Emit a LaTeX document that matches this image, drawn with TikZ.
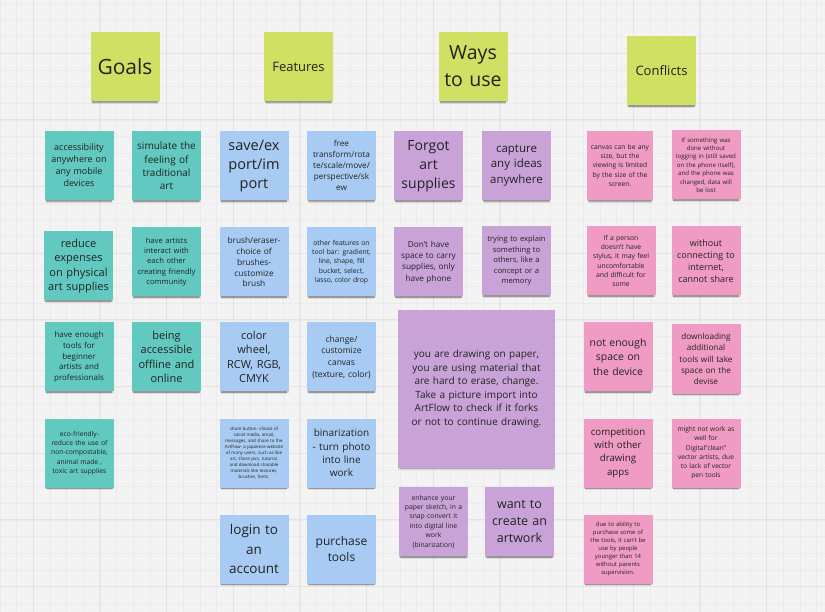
\documentclass[tikz,border=0pt]{standalone}
\usepackage{fontspec}
\setmainfont{Open Sans}
\usetikzlibrary{shadows}
\definecolor{bgc}{HTML}{F3F3F3}
\definecolor{gridc}{HTML}{EBEBEB}
\definecolor{gridm}{HTML}{E3E3E3}
\definecolor{hdrc}{HTML}{CFE062}
\definecolor{tealc}{HTML}{62C9C0}
\definecolor{bluec}{HTML}{A7CBF2}
\definecolor{purpc}{HTML}{C9A3D7}
\definecolor{pinkc}{HTML}{F09BC3}
\definecolor{txtc}{HTML}{222222}
\newcommand\fsz[2]{\fontsize{#1}{#2}\selectfont}
\tikzset{
  note/.style={minimum width=69pt, minimum height=69pt, text width=62pt,
    inner sep=0pt, align=center, text=txtc,
    general shadow={fill=black, opacity=0.10, shadow yshift=-4.5pt, shadow scale=0.95},
    general shadow={fill=black, opacity=0.22, shadow yshift=-3pt, shadow scale=0.97},
    general shadow={fill=black, opacity=0.10, shadow yshift=-1.5pt}},
  hdr/.style={note, fill=hdrc},
  goal/.style={note, fill=tealc},
  feat/.style={note, fill=bluec},
  way/.style={note, fill=purpc},
  conf/.style={note, fill=pinkc},
}
\begin{document}
\begin{tikzpicture}[x=1pt,y=-1pt]
\useasboundingbox (0,0) rectangle (825,612);
\fill[bgc] (0,0) rectangle (825,612);
\foreach \i in {0,...,50} {
  \draw[gridc, line width=0.7pt] ({0.0+16.667*\i},0) -- ({0.0+16.667*\i},612);
}
\foreach \i in {0,...,37} {
  \draw[gridc, line width=0.7pt] (0,{3.3+16.667*\i}) -- (825,{3.3+16.667*\i});
}
\foreach \i in {0,...,12} {
  \draw[gridm, line width=1pt] ({33.3+66.667*\i},0) -- ({33.3+66.667*\i},612);
}
\foreach \i in {0,...,9} {
  \draw[gridm, line width=1pt] (0,{53.3+66.667*\i}) -- (825,{53.3+66.667*\i});
}

% headers
\node[hdr, font=\fsz{21}{27}] (hgoals) at (125,66.5) {Goals};
\node[hdr, font=\fsz{13}{17}] (hfeat) at (298.5,66.5) {Features};
\node[hdr, font=\fsz{19.5}{27}] (hways) at (473,66.5) {Ways\\to use};
\node[hdr, font=\fsz{13}{17}] (hconf) at (661.5,71) {Conflicts};

% goals
\node[goal, font=\fsz{9}{12}] (a1) at (79,165.5) {accessibility\\anywhere on\\any mobile\\devices};
\node[goal, font=\fsz{10}{13.3}] (a2) at (166.5,166) {simulate the\\feeling of\\traditional\\art};
\node[goal, font=\fsz{11}{14.4}] (a3) at (78.5,266) {reduce\\expenses\\on physical\\art supplies};
\node[goal, font=\fsz{7.6}{10.4}] (a4) at (166.5,262) {have artists\\interact with\\each other\\creating friendly\\community};
\node[goal, font=\fsz{8}{10.8}] (a5) at (79,357) {have enough\\tools for\\beginner\\artists and\\professionals};
\node[goal, font=\fsz{11}{14.5}] (a6) at (166.5,357) {being\\accessible\\offline and\\online};
\node[goal, font=\fsz{6.7}{9.3}] (a7) at (79.5,453) {eco-friendly-\\reduce the use of\\non-compostable,\\animal made ,\\toxic art supplies};

% features
\node[feat, font=\fsz{14.5}{19}] (b1) at (254,166) {save/ex\\port/im\\port};
\node[feat, font=\fsz{8.2}{11.2}] (b2) at (341.5,165.5) {free\\transform/rota\\te/scale/move/\\perspective/sk\\ew};
\node[feat, font=\fsz{8.3}{10.9}] (b3) at (254,262) {brush/eraser-\\choice of\\brushes-\\customize\\brush};
\node[feat, font=\fsz{6.8}{9.3}] (b4) at (341.5,262) {other features on\\tool bar: gradient,\\line, shape, fill\\bucket, select,\\lasso, color drop};
\node[feat, font=\fsz{11}{14.5}] (b5) at (254,357) {color\\wheel,\\RCW, RGB,\\CMYK};
\node[feat, font=\fsz{8.5}{11.7}] (b6) at (341.5,357) {change/\\customize\\canvas\\(texture, color)};
\node[feat, font=\fsz{4.4}{6.1}] (b7) at (254,453) {share button- choice of\\social media, email,\\messages, and share to the\\ArtFlow- a japanese website\\of many users, such as like\\art, share pics, tutorial,\\and download sharable\\materials like textures,\\brushes, fonts.};
\node[feat, font=\fsz{10}{13.3}] (b8) at (341.5,453) {binarization\\- turn photo\\into line\\work};
\node[feat, font=\fsz{13.5}{19.5}] (b9) at (254,549) {login to\\an\\account};
\node[feat, font=\fsz{12}{16.7}] (b10) at (341.5,549) {purchase\\tools};

% ways to use
\node[way, font=\fsz{14}{19}] (c1) at (428.5,166) {Forgot\\art\\supplies};
\node[way, font=\fsz{11.5}{15.8}] (c2) at (516.5,165.5) {capture\\any ideas\\anywhere};
\node[way, font=\fsz{8.2}{11.3}] (c3) at (428.5,262) {Don't have\\space to carry\\supplies, only\\have phone};
\node[way, font=\fsz{7.6}{10.5}] (c4) at (516.5,261) {trying to explain\\something to\\others, like a\\concept or a\\memory};
\node[way, minimum width=157pt, minimum height=158pt, text width=150pt, font=\fsz{10}{13.5}] (c5) at (476.5,389) {you are drawing on paper,\\you are using material that\\are hard to erase, change.\\Take a picture import into\\ArtFlow to check if it forks\\or not to continue drawing.};
\node[way, font=\fsz{6.8}{9.4}] (c6) at (433.5,521.5) {enhance your\\paper sketch, in a\\snap convert it\\into digital line\\work\\(binarization)};
\node[way, font=\fsz{12.5}{17.2}] (c7) at (519.5,521.5) {want to\\create an\\artwork};

% conflicts
\node[conf, minimum width=66pt, font=\fsz{6.7}{9.2}] (d1) at (620,165.5) {canvas can be any\\size, but the\\viewing is limited\\by the size of the\\screen.};
\node[conf, font=\fsz{6.1}{8.4}] (d2) at (706,165) {If something was\\done without\\logging in (still saved\\on the phone itself),\\and the phone was\\changed, data will\\be lost};
\node[conf, font=\fsz{6.8}{9.2}] (d3) at (621,261) {If a person\\doesn't have\\stylus, it may feel\\uncomfortable\\and difficult for\\some};
\node[conf, font=\fsz{9}{12.2}] (d4) at (706,261) {without\\connecting to\\internet,\\cannot share};
\node[conf, font=\fsz{10.4}{14.2}] (d5) at (618,357) {not enough\\space on\\the device};
\node[conf, font=\fsz{8.2}{11.2}] (d6) at (706,359) {downloading\\additional\\tools will take\\space on the\\devise};
\node[conf, font=\fsz{9.7}{13.2}] (d7) at (618,453) {competition\\with other\\drawing\\apps};
\node[conf, font=\fsz{6.6}{9.3}] (d8) at (706,453) {might not work as\\well for\\Digital"clean"\\vector artists, due\\to lack of vector\\pen tools};
\node[conf, font=\fsz{5.9}{8.1}] (d9) at (618,549) {due to ability to\\purchase some of\\the tools, it can't be\\use by people\\younger than 14\\without parents\\supervision.};
\end{tikzpicture}
\end{document}
